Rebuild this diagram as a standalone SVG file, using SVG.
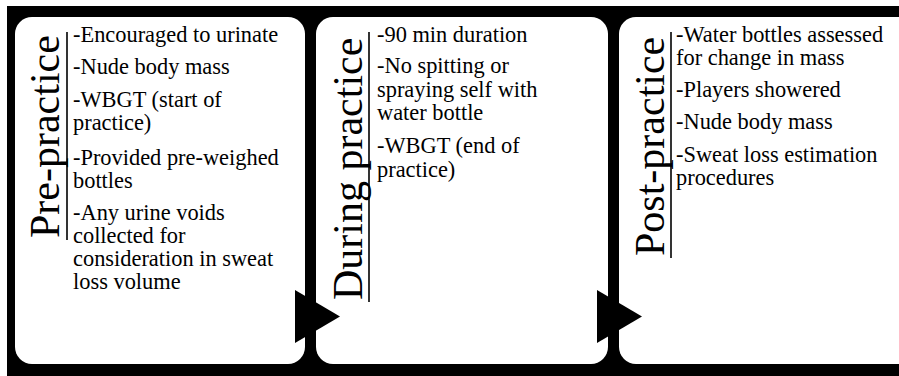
<svg xmlns="http://www.w3.org/2000/svg" width="899" height="376" viewBox="0 0 899 376">
<style>
.panel{fill:#fff}
.title{font-family:"Liberation Serif","Times New Roman",serif;font-size:42px;fill:#000}
.item{font-family:"Liberation Serif","Times New Roman",serif;font-size:22.4px;fill:#000}
.ul{stroke:#000;stroke-width:1.6}
.arrow{fill:#000}
</style>
<rect x="0" y="0" width="899" height="376" fill="#fff"/>
<rect x="7" y="6" width="892" height="370" fill="#000"/>
<g id="pre-practice">
<rect class="panel" x="15" y="17" width="290" height="347" rx="17" ry="17"/>
<text class="title" transform="translate(59,238) rotate(-90)">Pre-practice</text>
<line class="ul" x1="67" y1="32" x2="67" y2="240"/>
<text class="item" x="73" y="42">-Encouraged to urinate</text>
<text class="item" x="73" y="74">-Nude body mass</text>
<text class="item" x="73" y="107">-WBGT (start of</text>
<text class="item" x="73" y="130">practice)</text>
<text class="item" x="73" y="165">-Provided pre-weighed</text>
<text class="item" x="73" y="188">bottles</text>
<text class="item" x="73" y="220">-Any urine voids</text>
<text class="item" x="73" y="243">collected for</text>
<text class="item" x="73" y="266">consideration in sweat</text>
<text class="item" x="73" y="289">loss volume</text>
</g>
<g id="during-practice">
<rect class="panel" x="316" y="17" width="292" height="347" rx="17" ry="17"/>
<text class="title" transform="translate(362,300) rotate(-90)">During practice</text>
<line class="ul" x1="369" y1="32" x2="369" y2="302"/>
<text class="item" x="377" y="42">-90 min duration</text>
<text class="item" x="377" y="73">-No spitting or</text>
<text class="item" x="377" y="97">spraying self with</text>
<text class="item" x="377" y="120">water bottle</text>
<text class="item" x="377" y="153">-WBGT (end of</text>
<text class="item" x="377" y="177">practice)</text>
</g>
<g id="post-practice">
<rect class="panel" x="619" y="17" width="300" height="347" rx="17" ry="17"/>
<text class="title" transform="translate(664,256) rotate(-90)">Post-practice</text>
<line class="ul" x1="671" y1="32" x2="671" y2="258"/>
<text class="item" x="676" y="42">-Water bottles assessed</text>
<text class="item" x="676" y="65">for change in mass</text>
<text class="item" x="676" y="97">-Players showered</text>
<text class="item" x="676" y="129">-Nude body mass</text>
<text class="item" x="676" y="162">-Sweat loss estimation</text>
<text class="item" x="676" y="185">procedures</text>
</g>
<g id="connectors">
<polygon class="arrow" points="295,290 340,316.5 295,343"/>
<polygon class="arrow" points="597,290 642,316.5 597,343"/>
</g>
</svg>
